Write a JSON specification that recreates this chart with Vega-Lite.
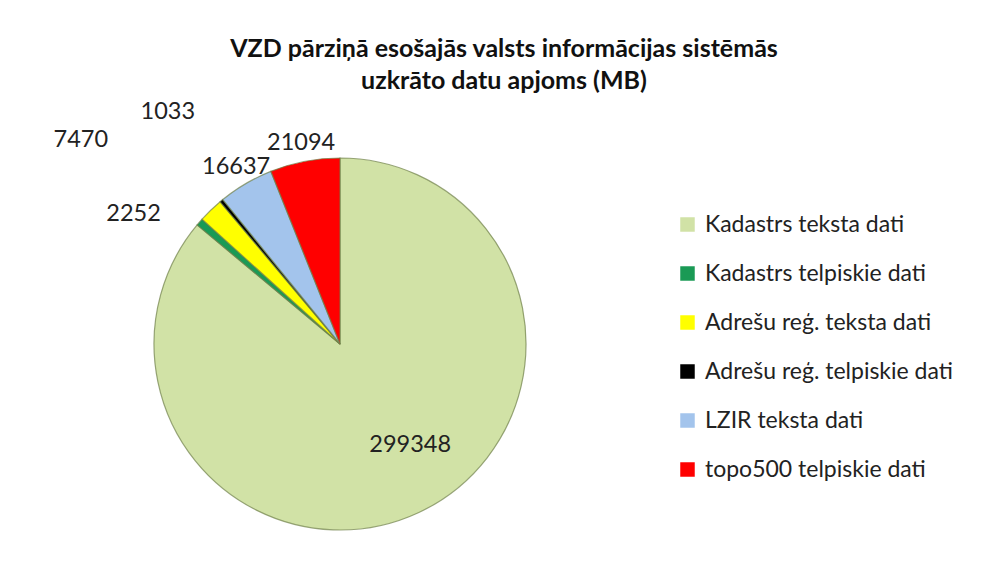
{
  "$schema": "https://vega.github.io/schema/vega-lite/v6.json",
  "width": 680,
  "height": 482,
  "autosize": "none",
  "padding": {"left": 0, "top": 103, "right": 309, "bottom": 0},
  "background": "white",
  "config": {"view": {"stroke": null}, "text": {"font": "Lato"}},
  "title": {
    "text": ["VZD pārziņā esošajās valsts informācijas sistēmās", "uzkrāto datu apjoms (MB)"],
    "font": "Lato", "fontSize": 25, "fontWeight": "bold", "lineHeight": 32,
    "color": "#111111", "anchor": "middle", "frame": "group", "dx": 164, "offset": -55
  },
  "data": {
    "values": [
      {"i": 1, "name": "Kadastrs teksta dati", "value": 299348},
      {"i": 2, "name": "Kadastrs telpiskie dati", "value": 2252},
      {"i": 3, "name": "Adrešu reģ. teksta dati", "value": 7470},
      {"i": 4, "name": "Adrešu reģ. telpiskie dati", "value": 1033},
      {"i": 5, "name": "LZIR teksta dati", "value": 16637},
      {"i": 6, "name": "topo500 telpiskie dati", "value": 21094}
    ]
  },
  "encoding": {
    "theta": {"field": "value", "type": "quantitative", "stack": true},
    "order": {"field": "i", "type": "quantitative"}
  },
  "layer": [
    {
      "mark": {"type": "arc", "outerRadius": 186, "stroke": "#6f8048", "strokeWidth": 1.2, "strokeOpacity": 0.7},
      "encoding": {
        "color": {
          "field": "name", "type": "nominal", "sort": null,
          "scale": {
            "domain": ["Kadastrs teksta dati", "Kadastrs telpiskie dati", "Adrešu reģ. teksta dati", "Adrešu reģ. telpiskie dati", "LZIR teksta dati", "topo500 telpiskie dati"],
            "range": ["#d1e2a6", "#1a9a55", "#ffff00", "#000000", "#a3c4ec", "#ff0000"]
          },
          "legend": {
            "orient": "none", "legendX": 676, "legendY": 110, "title": null,
            "symbolType": "square", "symbolSize": 210, "symbolStrokeWidth": 0,
            "labelFont": "Lato", "labelFontSize": 23, "labelColor": "#222222", "labelLimit": 400,
            "labelOffset": 6, "rowPadding": 25, "padding": 0
          }
        }
      }
    },
    {
      "mark": {"type": "text", "radius": 123, "fontSize": 23.5, "fill": "#222222", "dx": 18, "dy": -10},
      "encoding": {"text": {"condition": {"test": "datum.i == 1", "field": "value"}, "value": ""}}
    },
    {
      "mark": {"type": "text", "radius": 243, "fontSize": 23.5, "fill": "#222222", "dx": -23, "dy": 29},
      "encoding": {"text": {"condition": {"test": "datum.i == 2", "field": "value"}, "value": ""}}
    },
    {
      "mark": {"type": "text", "radius": 330, "fontSize": 23.5, "fill": "#222222", "dx": -30, "dy": 33},
      "encoding": {"text": {"condition": {"test": "datum.i == 3", "field": "value"}, "value": ""}}
    },
    {
      "mark": {"type": "text", "radius": 289, "fontSize": 23.5, "fill": "#222222", "dx": 12, "dy": -9},
      "encoding": {"text": {"condition": {"test": "datum.i == 4", "field": "value"}, "value": ""}}
    },
    {
      "mark": {"type": "text", "radius": 205, "fontSize": 23.5, "fill": "#222222"},
      "encoding": {"text": {"condition": {"test": "datum.i >= 5", "field": "value"}, "value": ""}}
    }
  ]
}
